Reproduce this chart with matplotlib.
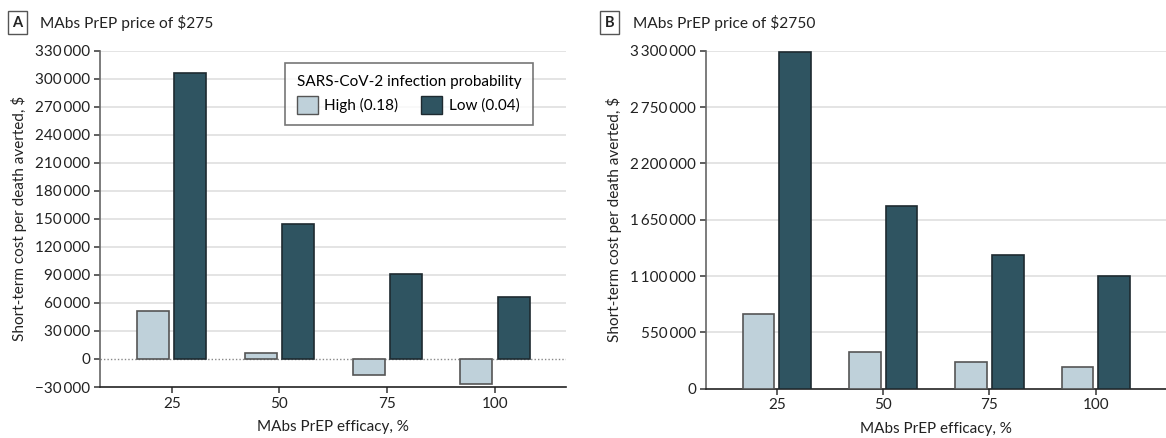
import numpy as np
import matplotlib
matplotlib.use("Agg")
import matplotlib.pyplot as plt
import matplotlib.patches as mpatches
from matplotlib.ticker import FuncFormatter

plt.rcParams['font.family'] = ['Lato', 'DejaVu Sans']

# data
efficacy = ['25', '50', '75', '100']
high_275 = [51500, 6400, -16800, -27000]
low_275 = [305800, 144300, 90800, 66600]
high_2750 = [727000, 363000, 259000, 210000]
low_2750 = [3292000, 1780000, 1306000, 1097000]

ticks_a = np.arange(-30000, 330001, 30000)
ticks_b = np.arange(0, 3300001, 550000)

high_color = '#BFD1DA'
low_color = '#2F5461'
text_color = '#222222'


def fmt(v, pos=None):
    s = f"{int(v):,}".replace(',', '\u2009')
    return s.replace('-', '\u2212')


def style_axis(ax, ymin, ymax, ticks):
    x = np.arange(len(efficacy))
    ax.set_xlim(-0.665, len(efficacy) - 1 + 0.66)
    ax.set_ylim(ymin, ymax)
    ax.set_yticks(ticks)
    ax.yaxis.set_major_formatter(FuncFormatter(fmt))
    ax.set_xticks(x)
    ax.set_xticklabels(efficacy)
    for t in ticks:
        if t != 0 and t != ymin:
            ax.axhline(t, color='#E2E2E2', lw=1.3, zorder=0)
    ax.spines['top'].set_visible(False)
    ax.spines['right'].set_visible(False)
    ax.spines['left'].set_color('#666666')
    ax.spines['left'].set_linewidth(1.2)
    ax.spines['bottom'].set_color('#222222')
    ax.spines['bottom'].set_linewidth(1.2)
    ax.tick_params(axis='both', length=4, width=1.2, color='#444444',
                   labelsize=11, labelcolor=text_color, pad=3)
    ax.set_xlabel('MAbs PrEP efficacy, %', fontsize=11, color=text_color, labelpad=7)
    ax.set_ylabel('Short-term cost per death averted, $', fontsize=11,
                  color=text_color, labelpad=6)


def draw_bars(ax, high, low):
    x = np.arange(len(efficacy))
    w = 0.297
    ax.bar(x - 0.172, high, w, color=high_color, edgecolor='#555555',
           linewidth=1.2, zorder=3)
    ax.bar(x + 0.172, low, w, color=low_color, edgecolor='#1E2A30',
           linewidth=1.2, zorder=3)


def panel_title(fig, x, letter, text):
    fig.text(x, 0.948, letter, fontsize=10.5, fontweight='bold', color=text_color,
             ha='left', va='center',
             bbox=dict(boxstyle='square,pad=0.3', fc='white', ec='#555555', lw=1))
    fig.text(x + 0.024, 0.948, text, fontsize=11.2, color=text_color,
             ha='left', va='center')


fig = plt.figure(figsize=(11.66, 4.38), dpi=100)

ax1 = fig.add_axes([0.0858, 0.1164, 0.3997, 0.7678])
draw_bars(ax1, high_275, low_275)
style_axis(ax1, -30000, 330000, ticks_a)
ax1.axhline(0, color='#888888', lw=1, ls=(0, (1, 1.5)), zorder=2)

handles = [mpatches.Patch(facecolor=high_color, edgecolor='#555555', label='High (0.18)'),
           mpatches.Patch(facecolor=low_color, edgecolor='#1E2A30', label='Low (0.04)')]
leg = ax1.legend(handles=handles, title='SARS-CoV-2 infection probability', ncol=2,
                 loc='upper left', bbox_to_anchor=(0.397, 0.963), borderaxespad=0,
                 fontsize=11, title_fontsize=11, frameon=True, fancybox=False,
                 edgecolor='#555555', handlelength=1.4, handleheight=1.4,
                 columnspacing=1.5, handletextpad=0.4, borderpad=0.75)
leg.get_frame().set_linewidth(1.2)
leg._legend_box.align = 'left'

ax2 = fig.add_axes([0.6055, 0.1126, 0.3945, 0.7716])
draw_bars(ax2, high_2750, low_2750)
style_axis(ax2, 0, 3300000, ticks_b)

panel_title(fig, 0.0105, 'A', 'MAbs PrEP price of $275')
panel_title(fig, 0.5185, 'B', 'MAbs PrEP price of $2750')

fig.savefig('out.png', dpi=100)
